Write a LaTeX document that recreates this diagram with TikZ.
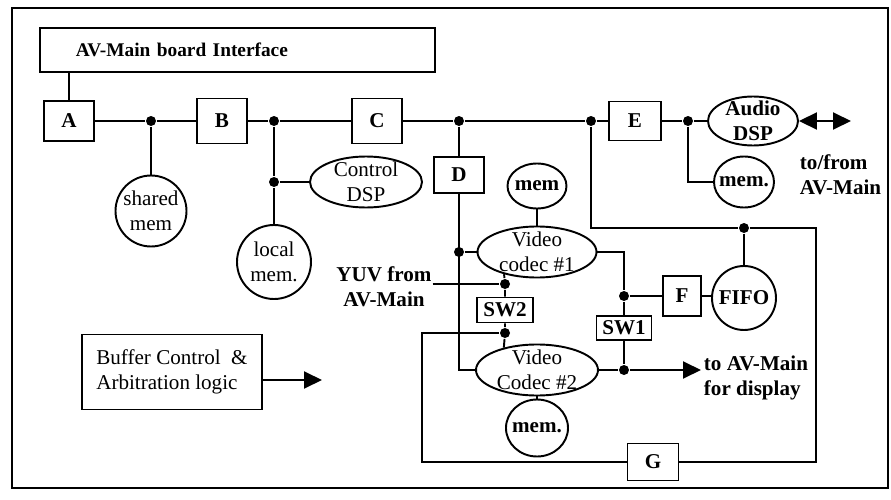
\documentclass[tikz,border=0pt]{standalone}
\usepackage{fontspec}
\setmainfont{Liberation Serif}
\usetikzlibrary{arrows.meta,shapes.geometric}

\begin{document}
\begin{tikzpicture}[x=0.2mm, y=-0.2mm, line width=1.1pt,
    >={Triangle[length=3.6mm, width=3.4mm]},
    font=\fontsize{12}{14.4}\selectfont,
    blk/.style={draw, font=\fontsize{12}{14.4}\selectfont\bfseries, inner sep=0pt, minimum width=10mm, minimum height=8mm},
    sw/.style={blk, minimum width=11mm, minimum height=4.8mm},
    oval/.style={draw, ellipse, inner sep=0pt},
    txt/.style={align=center, inner sep=0pt},
    btxt/.style={txt, font=\fontsize{12}{14.4}\selectfont\bfseries},
    jn/.style={circle, fill, inner sep=0pt, minimum size=2mm}]
  \useasboundingbox (0,0) rectangle (891,500);
  \draw (12,8) rectangle (888,488);

  % ---------------- main bus ----------------
  \node[draw, font=\fontsize{11}{13}\selectfont\bfseries, align=left, text width=64.6mm, inner xsep=7.2mm, minimum height=8.8mm] (ifc) at (237.5,50) {AV-Main board Interface};
  \node[blk] (A) at (69,121) {A};
  \node[jn] (j1) at (151,121) {};
  \node[blk, minimum height=9mm] (B) at (222,121) {B};
  \node[jn] (j2) at (274,121) {};
  \node[blk, minimum height=9mm] (C) at (377,121) {C};
  \node[jn] (j4) at (459,121) {};
  \node[jn] (j5) at (591,121) {};
  \node[blk, minimum width=10.4mm, minimum height=7.8mm] (E) at (635,121) {E};
  \node[jn] (j6) at (688,121) {};
  \node[oval, minimum width=18mm, minimum height=9.8mm, label={[btxt]center:Audio\\DSP}] (audio) at (753,121) {};
  \coordinate (avio) at (851,121);
  \draw (ifc.south -| A) -- (A);
  \draw (A) -- (j1) -- (B) -- (j2) -- (C) -- (j4) -- (j5) -- (E) -- (j6) -- (audio);
  \draw[<->] (audio) -- (avio);
  \node[btxt, align=left, anchor=west] (tofrom) at (799,175) {to/from\\AV-Main};

  % memories and control DSP
  \node[oval, minimum size=14.2mm, label={[txt]center:shared\\mem}] (shmem) at (151,211) {};
  \node[jn] (j3) at (274,182) {};
  \node[oval, minimum width=22.4mm, minimum height=10.2mm, label={[txt]center:Control\\DSP}] (ctrl) at (366,182) {};
  \node[oval, minimum size=14.8mm, label={[txt]center:local\\mem.}] (lmem) at (274,262) {};
  \node[oval, minimum width=12mm, minimum height=10.2mm, label={[btxt]center:mem.}] (amem) at (744,182) {};
  \draw (j1) -- (shmem);
  \draw (j2) -- (j3) -- (lmem);
  \draw (j3) -- (ctrl);
  \draw (j6) |- (amem);

  % ---------------- video ----------------
  \node[blk, minimum height=7.2mm] (D) at (459,175) {D};
  \node[oval, minimum width=11.8mm, minimum height=9mm, label={[btxt]center:mem}] (vmem) at (537,186) {};
  \node[oval, minimum width=23.8mm, minimum height=10.2mm, label={[txt]center:Video\\codec \#1}] (codec1) at (537,252) {};
  \node[oval, minimum width=24.4mm, minimum height=10.2mm, label={[txt]center:Video\\Codec \#2}] (codec2) at (537,370) {};
  \node[oval, minimum width=12.4mm, minimum height=11.4mm, label={[btxt]center:mem.}] (cmem) at (537,428) {};
  \node[jn] (j7) at (459,252) {};
  \draw (j4) -- (D);
  \draw (D) |- (codec2);
  \draw (j7) -- (codec1);
  \draw (vmem) -- (codec1);
  \draw (codec2) -- (cmem);

  % SW2 and YUV input
  \node[btxt] (yuv) at (384,287) {YUV from\\AV-Main};
  \node[jn] (j11) at (505,284) {};
  \node[sw, minimum width=11.2mm, minimum height=5mm] (sw2) at (505,310) {SW2};
  \node[jn] (j12) at (505,333) {};
  \draw (yuv.east |- j11) -- (j11);
  \draw (codec1.214) -- (j11) -- (sw2) -- (j12) -- (codec2.146);

  % SW1, F and FIFO
  \node[jn] (j9) at (624,296) {};
  \node[blk, minimum width=7.6mm] (F) at (682,296) {F};
  \node[oval, minimum size=12.8mm, label={[btxt]center:FIFO}] (fifo) at (744,298) {};
  \node[sw] (sw1) at (624,328) {SW1};
  \node[jn] (j10) at (624,370) {};
  \coordinate (dispout) at (701,370);
  \draw (codec1) -| (j9);
  \draw (j9) -- (F);
  \draw (F) -- (F -| fifo.west);
  \draw (j9) -- (sw1) -- (j10);
  \draw (codec2) -- (j10);
  \draw[->] (j10) -- (dispout);
  \node[btxt, align=left, anchor=west] (tomain) at (703,378) {to AV-Main\\for display};

  % loop through G
  \node[jn] (j8) at (744,228) {};
  \node[blk, minimum width=10.2mm, minimum height=7.4mm] (G) at (653,462) {G};
  \coordinate (ne) at (816,228);
  \coordinate (se) at (816,462);
  \coordinate (lnw) at (422,333);
  \coordinate (lsw) at (422,462);
  \draw (j5) |- (j8) -- (ne) -- (se) -- (G);
  \draw (j8) -- (fifo);
  \draw (j12) -- (lnw) -- (lsw) -- (G);

  % ---------------- buffer control ----------------
  \node[draw, align=left, inner sep=0pt, minimum width=36mm, minimum height=15mm] (buf) at (172,372) {Buffer Control\ \ \&\\Arbitration logic};
  \coordinate (bufout) at (322,380);
  \draw[->] (buf.east |- bufout) -- (bufout);
\end{tikzpicture}
\end{document}
